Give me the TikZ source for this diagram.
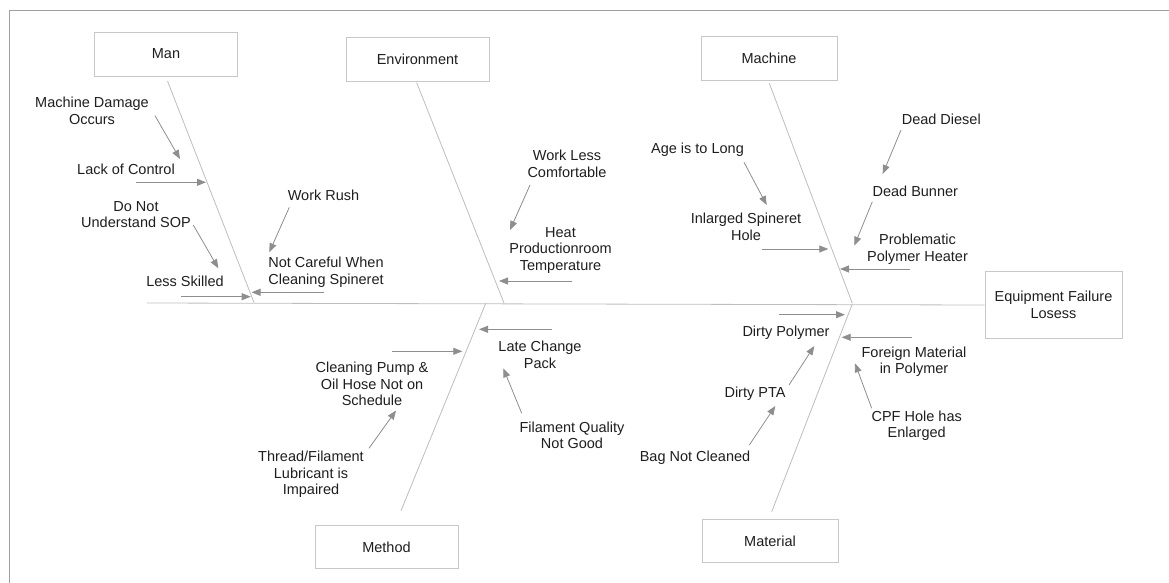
\documentclass[tikz,border=0pt]{standalone}
\usepackage{fontspec}
\setmainfont{Liberation Sans}
\usetikzlibrary{arrows.meta}
\definecolor{framegray}{HTML}{A0A0A0}
\definecolor{boxgray}{HTML}{C8C8C8}
\definecolor{bonegray}{HTML}{BDBDBD}
\definecolor{arrowgray}{HTML}{8E8E8E}
\definecolor{textgray}{HTML}{1E1E1E}
\newcommand{\causefont}{\fontsize{14.5}{16.5}\selectfont}
\tikzset{
  causebox/.style={draw=boxgray, line width=0.8pt, minimum width=143pt, minimum height=44pt, inner sep=0pt, font=\causefont, text=textgray},
  cause/.style={align=center, inner sep=0pt, font=\causefont, text=textgray},
  bone/.style={draw=bonegray, line width=0.8pt},
  subcause/.style={draw=arrowgray, line width=0.8pt, -{Triangle[length=9pt,width=7pt]}},
}
\begin{document}
\begin{tikzpicture}[x=1pt,y=-1pt]
      \useasboundingbox (0,0) rectangle (1169,583);
      \draw[framegray, line width=1pt] (9,583) -- (9,10.5) -- (1169,10.5);

      % category boxes
      \node[causebox] (man) at (166,54) {Man};
      \node[causebox] (env) at (417.5,59) {Environment};
      \node[causebox, minimum width=136pt] (mach) at (769,58) {Machine};
      \node[causebox, minimum height=43pt] (meth) at (386.5,547) {Method};
      \node[causebox, minimum width=136pt, minimum height=43pt] (mat) at (770,541) {Material};
      \node[causebox, minimum width=137pt, minimum height=67pt, align=center] (effect) at (1053.5,305) {Equipment Failure\\Losess};

      % man
      \node[cause] (damage) at (92,111) {Machine Damage\\Occurs};
      \node[cause] (control) at (126,169.5) {Lack of Control};
      \node[cause] (sop) at (136,214.5) {Do Not\\Understand SOP};
      \node[cause] (skilled) at (185,281) {Less Skilled};
      \node[cause] (rush) at (323.5,195) {Work Rush};
      \node[cause] (careless) at (326,272) {Not Careful When\\Cleaning Spineret};

      % environment
      \node[cause] (comfort) at (567,163.7) {Work Less\\Comfortable};
      \node[cause] (heat) at (560.5,250.5) {Heat\\Productionroom\\Temperature};

      % machine
      \node[cause] (age) at (697.5,150) {Age is to Long};
      \node[cause] (hole) at (746,226.7) {Inlarged Spineret\\Hole};
      \node[cause] (diesel) at (941.3,119) {Dead Diesel};
      \node[cause] (bunner) at (915.3,191) {Dead Bunner};
      \node[cause] (heater) at (917.5,249.3) {Problematic\\Polymer Heater};

      % method
      \node[cause] (latepack) at (540,355) {Late Change\\Pack};
      \node[cause] (pump) at (372,384.3) {Cleaning Pump \&\\Oil Hose Not on\\Schedule};
      \node[cause] (quality) at (572,435.3) {Filament Quality\\Not Good};
      \node[cause] (lubricant) at (311,474.5) {Thread/Filament\\Lubricant is\\Impaired};

      % material
      \node[cause] (dirtypoly) at (786,332.3) {Dirty Polymer};
      \node[cause] (foreign) at (914,361.7) {Foreign Material\\in Polymer};
      \node[cause] (pta) at (755,394) {Dirty PTA};
      \node[cause] (bag) at (695,457.7) {Bag Not Cleaned};
      \node[cause] (cpf) at (916.7,425.5) {CPF Hole has\\Enlarged};

      % spine and bones
      \coordinate (tail) at (147,303);
      \coordinate (manbone) at (167.5,81);
      \coordinate (manjoint) at (254,302.5);
      \coordinate (envbone) at (416.7,82.7);
      \coordinate (envjoint) at (504,303);
      \coordinate (machbone) at (769.3,83.3);
      \coordinate (machjoint) at (852.3,303.3);
      \coordinate (methbone) at (401,510.7);
      \coordinate (methjoint) at (485.7,303.3);
      \coordinate (matbone) at (771.7,511.7);
      \coordinate (matjoint) at (852.3,304);

      \draw[bone] (node cs:name=tail) -- (effect.west);
      \draw[bone] (node cs:name=manbone) -- (node cs:name=manjoint);
      \draw[bone] (node cs:name=envbone) -- (node cs:name=envjoint);
      \draw[bone] (node cs:name=machbone) -- (node cs:name=machjoint);
      \draw[bone] (node cs:name=methbone) -- (node cs:name=methjoint);
      \draw[bone] (node cs:name=matbone) -- (node cs:name=matjoint);

      % arrow ends
      \coordinate (damage-a) at (155,115.7);     \coordinate (damage-b) at (180,159);
      \coordinate (control-a) at (136,182.3);    \coordinate (control-b) at (206,182.3);
      \coordinate (sop-a) at (193.3,225);        \coordinate (sop-b) at (218.3,268.3);
      \coordinate (skilled-a) at (181,296.7);    \coordinate (skilled-b) at (250.7,296.7);
      \coordinate (rush-a) at (289.3,207.3);     \coordinate (rush-b) at (269.3,252.3);
      \coordinate (careless-a) at (324,292.3);   \coordinate (careless-b) at (251.5,292.3);
      \coordinate (comfort-a) at (530,185);      \coordinate (comfort-b) at (510,230);
      \coordinate (heat-a) at (572.3,281);       \coordinate (heat-b) at (499,281);
      \coordinate (age-a) at (744,162.3);        \coordinate (age-b) at (766.7,205);
      \coordinate (hole-a) at (762.3,249);       \coordinate (hole-b) at (828.3,249);
      \coordinate (diesel-a) at (901,130);       \coordinate (diesel-b) at (882.7,174);
      \coordinate (bunner-a) at (872.3,201.7);   \coordinate (bunner-b) at (854.3,245.7);
      \coordinate (heater-a) at (910,269);       \coordinate (heater-b) at (840,269);
      \coordinate (latepack-a) at (552.3,329.3); \coordinate (latepack-b) at (479,329.3);
      \coordinate (pump-a) at (392.3,351.3);     \coordinate (pump-b) at (462.3,351.3);
      \coordinate (quality-a) at (521.7,413.3);  \coordinate (quality-b) at (503.3,368.3);
      \coordinate (lubricant-a) at (369,448.3);  \coordinate (lubricant-b) at (396,410.5);
      \coordinate (dirtypoly-a) at (779,314.7);  \coordinate (dirtypoly-b) at (845,314.7);
      \coordinate (foreign-a) at (911.7,337.3);  \coordinate (foreign-b) at (841.7,337.3);
      \coordinate (pta-a) at (789,385);          \coordinate (pta-b) at (814.3,346);
      \coordinate (bag-a) at (749.3,445);        \coordinate (bag-b) at (775.3,406);
      \coordinate (cpf-a) at (871.7,408.3);      \coordinate (cpf-b) at (855,363.3);

      \draw[subcause] (node cs:name=damage-a) -- (node cs:name=damage-b);
      \draw[subcause] (node cs:name=control-a) -- (node cs:name=control-b);
      \draw[subcause] (node cs:name=sop-a) -- (node cs:name=sop-b);
      \draw[subcause] (node cs:name=skilled-a) -- (node cs:name=skilled-b);
      \draw[subcause] (node cs:name=rush-a) -- (node cs:name=rush-b);
      \draw[subcause] (node cs:name=careless-a) -- (node cs:name=careless-b);
      \draw[subcause] (node cs:name=comfort-a) -- (node cs:name=comfort-b);
      \draw[subcause] (node cs:name=heat-a) -- (node cs:name=heat-b);
      \draw[subcause] (node cs:name=age-a) -- (node cs:name=age-b);
      \draw[subcause] (node cs:name=hole-a) -- (node cs:name=hole-b);
      \draw[subcause] (node cs:name=diesel-a) -- (node cs:name=diesel-b);
      \draw[subcause] (node cs:name=bunner-a) -- (node cs:name=bunner-b);
      \draw[subcause] (node cs:name=heater-a) -- (node cs:name=heater-b);
      \draw[subcause] (node cs:name=latepack-a) -- (node cs:name=latepack-b);
      \draw[subcause] (node cs:name=pump-a) -- (node cs:name=pump-b);
      \draw[subcause] (node cs:name=quality-a) -- (node cs:name=quality-b);
      \draw[subcause] (node cs:name=lubricant-a) -- (node cs:name=lubricant-b);
      \draw[subcause] (node cs:name=dirtypoly-a) -- (node cs:name=dirtypoly-b);
      \draw[subcause] (node cs:name=foreign-a) -- (node cs:name=foreign-b);
      \draw[subcause] (node cs:name=pta-a) -- (node cs:name=pta-b);
      \draw[subcause] (node cs:name=bag-a) -- (node cs:name=bag-b);
      \draw[subcause] (node cs:name=cpf-a) -- (node cs:name=cpf-b);
    \end{tikzpicture}
\end{document}
